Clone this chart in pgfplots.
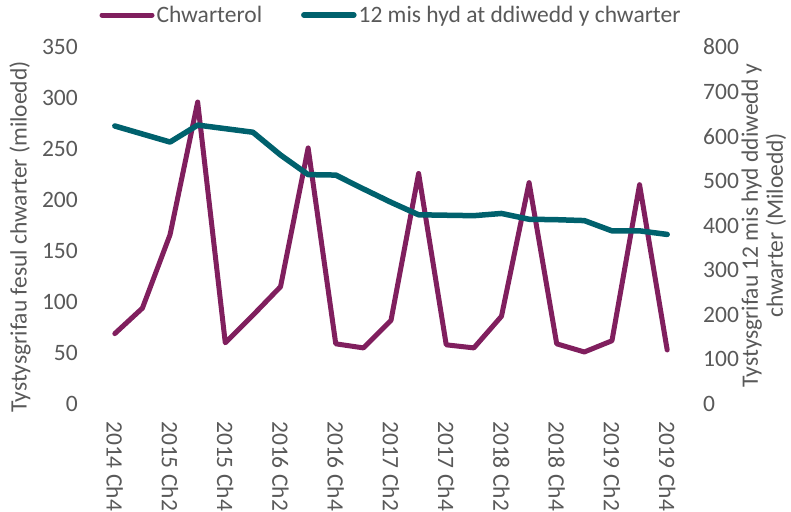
\documentclass[border=0pt]{standalone}
\usepackage{pgfplots}
\pgfplotsset{compat=1.18}
\usepackage{fontspec}
\setmainfont{Carlito}
\definecolor{txt}{HTML}{595959}
\definecolor{cpurple}{RGB}{128,31,94}
\definecolor{cteal}{RGB}{0,97,109}
\newcommand{\fs}{\fontsize{23.5bp}{25bp}\selectfont}
\pgfplotsset{
  common/.style={
    width=580bp, height=357bp, scale only axis,
    xmin=-0.5, xmax=20.5, ymin=0,
    axis line style={draw=none},
    tick style={draw=none}, major tick length=0pt,
    /pgf/number format/assume math mode=true,
    tick label style={font=\fs, text=txt},
    label style={font=\fs, text=txt},
    clip=false,
  }
}
\begin{document}
\begin{tikzpicture}
\begin{axis}[common,
  ymax=350, ytick={0,50,...,350},
  axis y line*=left, axis x line*=bottom,
  xtick={0,2,...,20},
  xticklabels={2014 Ch4,2015 Ch2,2015 Ch4,2016 Ch2,2016 Ch4,2017 Ch2,2017 Ch4,2018 Ch2,2018 Ch4,2019 Ch2,2019 Ch4},
  xticklabel style={rotate=-90, anchor=west, inner xsep=17bp, inner ysep=0pt},
  yticklabel style={anchor=east, inner xsep=23bp, inner ysep=0pt},
  ylabel={Tystysgrifau fesul chwarter (miloedd)},
  ylabel style={at={(axis description cs:-0.1397,0.468)}, anchor=center},
]
\coordinate (O) at (rel axis cs:0,0);
\addplot[cpurple, line width=5bp, line join=round, line cap=round] coordinates {
(0,69) (1,94) (2,166) (3,296) (4,60) (5,87) (6,115) (7,251) (8,59) (9,55) (10,82)
(11,226) (12,58) (13,55) (14,86) (15,217) (16,59) (17,51) (18,62) (19,215) (20,53)
};
\end{axis}
\begin{axis}[common,
  ymax=800, ytick={0,100,...,800},
  axis y line*=right, axis x line=none,
  yticklabel style={anchor=west, inner xsep=22bp, inner ysep=0pt},
  ylabel={Tystysgrifau 12 mis hyd ddiwedd y\\chwarter (Miloedd)},
  ylabel style={at={(axis description cs:1.143,0.5)}, anchor=center, align=center},
  legend style={draw=none, fill=none, font=\fs, text=txt,
    at={(axis description cs:0.5,1.0896)}, anchor=center,
    /tikz/every even column/.append style={column sep=37bp}},
  legend columns=2,
  legend image code/.code={\draw[#1, line cap=round] (0bp,0bp) -- (50bp,0bp);},
]
\addlegendimage{cpurple, line width=5bp}
\addlegendentry{Chwarterol}
\addplot[cteal, line width=5.5bp, line join=round, line cap=round] coordinates {
(0,623) (1,605) (2,587) (3,625) (4,617) (5,609) (6,558) (7,514) (8,513) (9,482) (10,452)
(11,424) (12,423) (13,422) (14,427) (15,414) (16,413) (17,411) (18,388) (19,388) (20,380)
};
\addlegendentry{12 mis hyd at ddiwedd y chwarter}
\end{axis}
\pgfresetboundingbox
\useasboundingbox (O) ++(-101bp,-108bp) rectangle ++(791bp,512bp);
\end{tikzpicture}
\end{document}
